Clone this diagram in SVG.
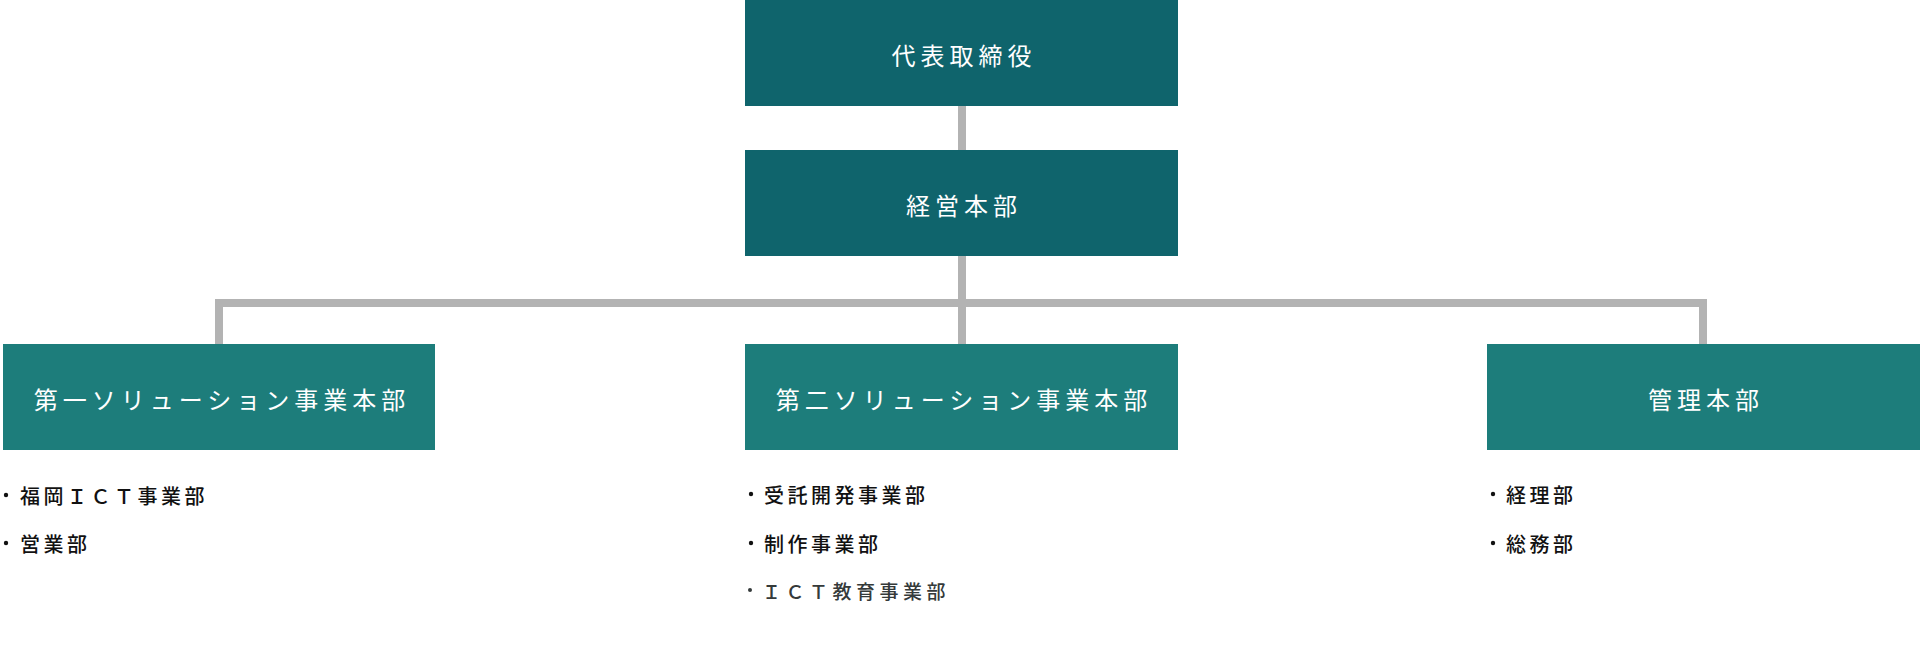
<svg xmlns="http://www.w3.org/2000/svg" width="1920" height="663" viewBox="0 0 1920 663">
  <style>
    .top { fill: #0f646c; }
    .unit { fill: #1d7d7b; }
    .title { font-family: "Noto Sans CJK JP", "Noto Sans", sans-serif; font-size: 24px; letter-spacing: 5px; fill: #ffffff; text-anchor: middle; dominant-baseline: central; }
    .item { font-family: "Noto Sans CJK JP", "Noto Sans", sans-serif; font-size: 20px; letter-spacing: 3.5px; fill: #111111; font-weight: 500; dominant-baseline: central; }
    .item2 { font-family: "Noto Sans CJK JP", "Noto Sans", sans-serif; font-size: 19px; letter-spacing: 4.5px; fill: #353a3a; font-weight: 500; dominant-baseline: central; }
    .dot { fill: #111111; }
    .dot2 { fill: #353a3a; }
    .conn { fill: none; stroke: #b3b3b3; stroke-width: 8; stroke-linejoin: miter; stroke-linecap: butt; }
  </style>
  <rect width="1920" height="663" fill="#ffffff"/>
  <g id="connectors">
    <path class="conn" d="M962 106 V150"/>
    <path class="conn" d="M962 256 V344"/>
    <path class="conn" d="M219 344 V303 H1703 V344"/>
  </g>
  <g id="ceo">
    <rect class="top" x="745" y="0" width="433" height="106"/>
    <text class="title" x="964" y="54">代表取締役</text>
  </g>
  <g id="management-hq">
    <rect class="top" x="745" y="150" width="433" height="106"/>
    <text class="title" x="964" y="204">経営本部</text>
  </g>
  <g id="solution1">
    <rect class="unit" x="3" y="344" width="432" height="106"/>
    <text class="title" x="222" y="398">第一ソリューション事業本部</text>
    <circle class="dot" cx="6" cy="495" r="2.2"/>
    <text class="item" x="20" y="495">福岡ＩＣＴ事業部</text>
    <circle class="dot" cx="6" cy="543" r="2.2"/>
    <text class="item" x="20" y="543">営業部</text>
  </g>
  <g id="solution2">
    <rect class="unit" x="745" y="344" width="433" height="106"/>
    <text class="title" x="964" y="398">第二ソリューション事業本部</text>
    <circle class="dot" cx="751" cy="494" r="2.2"/>
    <text class="item" x="764" y="494">受託開発事業部</text>
    <circle class="dot" cx="751" cy="543" r="2.2"/>
    <text class="item" x="764" y="543">制作事業部</text>
    <circle class="dot2" cx="750" cy="590" r="2"/>
    <text class="item2" x="762" y="590">ＩＣＴ教育事業部</text>
  </g>
  <g id="admin-hq">
    <rect class="unit" x="1487" y="344" width="433" height="106"/>
    <text class="title" x="1706" y="398">管理本部</text>
    <circle class="dot" cx="1493" cy="494" r="2.2"/>
    <text class="item" x="1506" y="494">経理部</text>
    <circle class="dot" cx="1493" cy="543" r="2.2"/>
    <text class="item" x="1506" y="543">総務部</text>
  </g>
</svg>
